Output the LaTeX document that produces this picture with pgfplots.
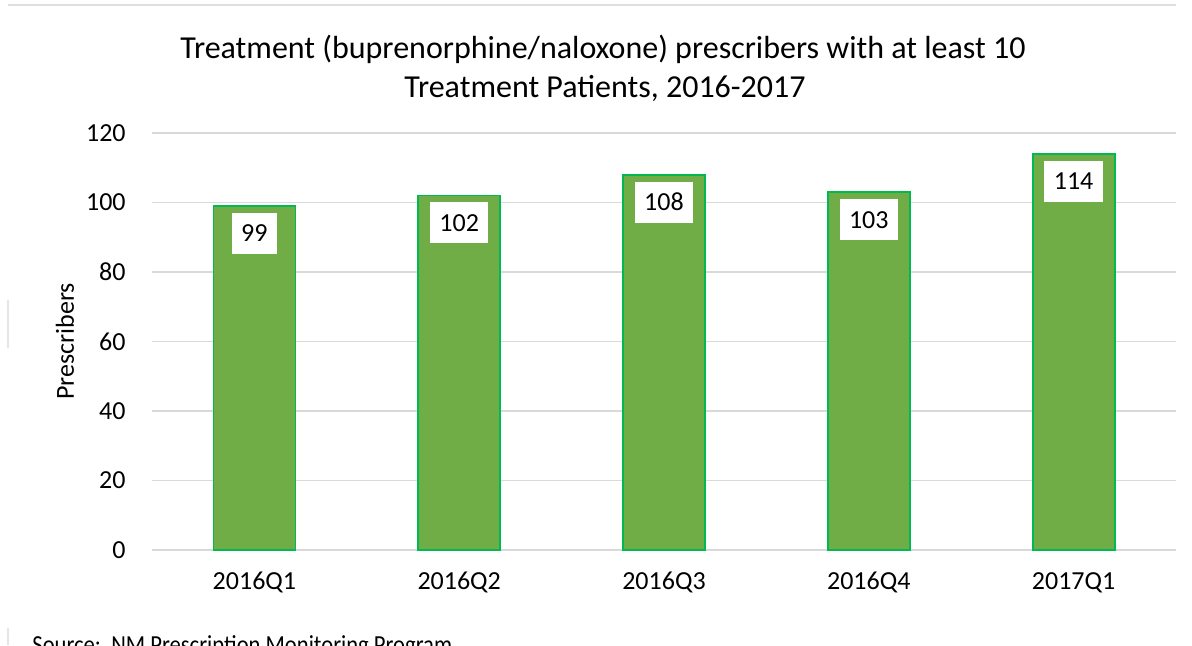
\documentclass[border=0pt]{standalone}
\usepackage{pgfplots}
\pgfplotsset{compat=1.18}
\usepackage{fontspec}
\setmainfont{Carlito}
\definecolor{barfill}{RGB}{112,173,71}
\definecolor{barline}{RGB}{0,185,80}
\definecolor{gridc}{RGB}{217,217,217}
\begin{document}
\begin{tikzpicture}
\useasboundingbox (0,0) rectangle (596pt,322.5pt);
\fill[white] (0,0) rectangle (596pt,322.5pt);
\draw[gray!25, line width=0.6pt] (4pt,320pt) -- (588pt,320pt);
\draw[gray!20, line width=0.8pt] (4pt,172.5pt) -- (4pt,148.5pt);
\draw[gray!20, line width=0.8pt] (4pt,8.5pt) -- (4pt,0pt);
\begin{axis}[
  at={(76pt,47.5pt)}, anchor=south west,
  scale only axis, width=512pt, height=208.5pt,
  xmin=-0.5, xmax=4.5, ymin=0, ymax=120,
  ytick={0,20,...,120},
  xtick={0,1,2,3,4},
  xticklabels={2016Q1,2016Q2,2016Q3,2016Q4,2017Q1},
  axis line style={draw=none},
  major tick length=0pt,
  ymajorgrids, grid style={gridc, line width=0.6pt},
  tick label style={font=\fontsize{13}{15}\selectfont, text=black},
  /pgf/number format/assume math mode=true,
  yticklabel style={anchor=east, inner sep=0pt, xshift=-13pt},
  xticklabel style={anchor=north, inner sep=0pt, yshift=-11pt},
  ylabel={Prescribers},
  ylabel style={at={(axis description cs:-0.085,0.5)}, anchor=center, font=\fontsize{13}{15}\selectfont},
  clip=false,
]
\addplot[ybar, bar width=41pt, fill=barfill, draw=barline, line width=0.9pt,
  nodes near coords,
  nodes near coords style={anchor=north, yshift=-3pt, fill=white, text=black,
    font=\fontsize{13}{15}\selectfont, inner xsep=4.7pt, inner ysep=0pt,
    minimum height=20.5pt, text height=8.6pt, text depth=0pt},
  point meta=explicit symbolic,
] coordinates {
  (0,99) [99]
  (1,102) [102]
  (2,108) [108]
  (3,103) [103]
  (4,114) [114]
};
\end{axis}
\node[anchor=base, font=\fontsize{16}{19}\selectfont] at (301.5pt,293.5pt) {Treatment (buprenorphine/naloxone) prescribers with at least 10};
\node[anchor=base, font=\fontsize{16}{19}\selectfont] at (302.5pt,274pt) {Treatment Patients, 2016-2017};
\node[anchor=base west, font=\fontsize{13}{15}\selectfont, inner sep=0pt] at (16pt,-4pt) {\scalebox{0.87}[1]{Source:\ \ NM Prescription Monitoring Program}};
\end{tikzpicture}
\end{document}
